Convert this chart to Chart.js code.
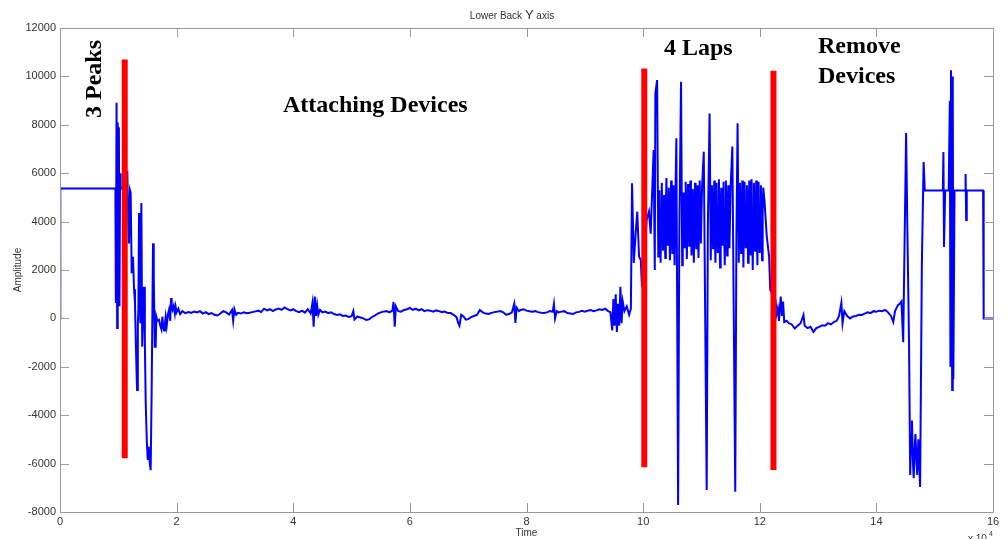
<!DOCTYPE html>
<html>
<head>
<meta charset="utf-8">
<script src="https://cdn.jsdelivr.net/npm/chart.js@4.4.1/dist/chart.umd.min.js"></script>
<style>
  html, body { margin: 0; padding: 0; background: #fff; }
  canvas { display: block; }
</style>
</head>
<body>
<canvas id="chart" width="1008" height="539"></canvas>
<script>
// Lower back Y axis signal, time in units of 10^4 samples
const signal = [
  [0, 0], [0.005, 5370], [0.95, 5370], [0.955, 5300], [0.96, 640], [0.97, 8910], [0.98, -400],
  [0.99, 8100], [1.0, 600], [1.01, 7900], [1.02, 500], [1.03, 6000], [1.04, 5350], [1.07, 5400],
  [1.10, 5300], [1.13, 5900], [1.155, 6000], [1.17, 4000], [1.183, 3100], [1.20, 5300], [1.212, 5200],
  [1.229, 1870], [1.252, 2550], [1.27, 1200], [1.286, 640], [1.30, -1000], [1.321, -2960], [1.335, -200],
  [1.344, 300], [1.355, 4350], [1.365, 2500], [1.378, -200], [1.395, 4770], [1.41, -1170], [1.425, 640],
  [1.441, 1310], [1.455, -1000], [1.47, -3500], [1.49, -5150], [1.505, -5850], [1.52, -5300],
  [1.54, -6000], [1.555, -6270], [1.572, -2960], [1.595, 3100], [1.608, 1720], [1.625, -1170],
  [1.641, -1170], [1.652, 70], [1.67, -100], [1.698, -60], [1.72, -300], [1.74, -450], [1.755, 70],
  [1.77, -350], [1.785, -500], [1.80, -200], [1.812, 70], [1.83, -300], [1.85, 150], [1.869, 350],
  [1.89, -100], [1.905, 840], [1.915, 500], [1.93, 350], [1.95, 520], [1.97, 200], [1.983, 480],
  [2.0, 250], [2.03, 400], [2.06, 180], [2.098, 300], [2.15, 220], [2.2, 260], [2.25, 230], [2.3, 280],
  [2.35, 250], [2.40, 300], [2.45, 200], [2.50, 260], [2.55, 180], [2.60, 220], [2.65, 150], [2.70, 120],
  [2.75, 200], [2.80, 300], [2.85, 250], [2.90, 160], [2.95, 350], [2.97, -100], [2.99, 380], [3.02, 150],
  [3.05, 230], [3.10, 200], [3.15, 250], [3.20, 210], [3.25, 230], [3.30, 260], [3.35, 290], [3.40, 320],
  [3.45, 260], [3.50, 400], [3.55, 330], [3.60, 380], [3.65, 300], [3.70, 370], [3.75, 410], [3.80, 350],
  [3.85, 450], [3.90, 380], [3.95, 330], [4.00, 380], [4.05, 300], [4.10, 260], [4.15, 320], [4.20, 240],
  [4.25, 380], [4.30, 200], [4.33, 650], [4.35, -340], [4.37, 900], [4.39, 100], [4.41, 550], [4.43, 150],
  [4.46, 350], [4.50, 250], [4.55, 280], [4.60, 220], [4.65, 250], [4.70, 180], [4.75, 140], [4.80, 170],
  [4.85, 100], [4.90, 120], [4.95, 60], [5.00, 90], [5.03, 300], [5.05, -50], [5.10, 80], [5.15, 40],
  [5.20, 0], [5.25, -60], [5.30, -40], [5.35, 50], [5.40, 120], [5.45, 200], [5.50, 250], [5.55, 280],
  [5.60, 300], [5.65, 250], [5.70, 320], [5.72, 680], [5.74, -340], [5.76, 500], [5.80, 300], [5.85, 280],
  [5.90, 350], [5.95, 380], [6.00, 430], [6.05, 350], [6.10, 400], [6.15, 330], [6.20, 380], [6.25, 300],
  [6.30, 340], [6.35, 320], [6.40, 280], [6.45, 330], [6.50, 300], [6.55, 260], [6.60, 280], [6.65, 220],
  [6.70, 220], [6.75, 150], [6.80, 50], [6.83, -200], [6.85, -300], [6.88, 150], [6.92, 80], [6.96, -50],
  [7.00, -30], [7.05, 50], [7.10, 100], [7.15, 140], [7.20, 350], [7.25, 250], [7.30, 200], [7.35, 180],
  [7.40, 230], [7.45, 260], [7.50, 280], [7.55, 300], [7.60, 250], [7.65, 150], [7.70, 180], [7.75, 250],
  [7.79, 600], [7.81, -190], [7.83, 450], [7.87, 300], [7.90, 350], [7.95, 380], [8.00, 320], [8.05, 300],
  [8.10, 280], [8.15, 300], [8.20, 260], [8.25, 230], [8.30, 220], [8.35, 250], [8.40, 300], [8.45, 280],
  [8.47, 600], [8.49, 0], [8.52, 300], [8.55, 250], [8.60, 280], [8.65, 300], [8.70, 220], [8.75, 200],
  [8.80, 180], [8.85, 250], [8.90, 270], [8.95, 310], [9.00, 280], [9.05, 320], [9.10, 350], [9.15, 300],
  [9.20, 330], [9.25, 380], [9.30, 350], [9.35, 400], [9.40, 300], [9.44, 250], [9.47, -500], [9.49, 800],
  [9.51, -300], [9.53, 1000], [9.55, -560], [9.57, 600], [9.59, -300], [9.61, 1310], [9.63, -200],
  [9.65, 700], [9.68, 300], [9.72, 500], [9.76, 150], [9.79, 400], [9.81, 5580], [9.84, 2290],
  [9.87, 3460], [9.90, 4410], [9.93, 2560], [9.96, 2400], [9.98, 1310], [10.01, 2000], [10.06, 4070],
  [10.10, 4410], [10.13, 3500], [10.16, 5580], [10.18, 6960], [10.20, 2000], [10.21, 9300], [10.24, 9850],
  [10.26, 2560], [10.27, 4300], [10.28, 5300], [10.29, 3600], [10.30, 2300], [10.31, 4500], [10.32, 5600],
  [10.33, 3900], [10.34, 2800], [10.35, 4200], [10.36, 5100], [10.37, 3400], [10.38, 2500], [10.39, 4600],
  [10.40, 5800], [10.41, 4100], [10.42, 3000], [10.43, 4400], [10.44, 5400], [10.45, 3700], [10.46, 2400],
  [10.47, 4300], [10.48, 5700], [10.49, 3800], [10.50, 2700], [10.51, 4500], [10.52, 5500], [10.53, 3500],
  [10.54, 2200], [10.555, 5300], [10.57, 7440], [10.60, -7710], [10.62, 3400], [10.65, 9780],
  [10.67, 2200], [10.68, 4100], [10.69, 5200], [10.70, 3900], [10.71, 2900], [10.72, 4400], [10.73, 5650],
  [10.74, 3600], [10.75, 2450], [10.76, 4300], [10.77, 5550], [10.78, 4000], [10.79, 3000], [10.80, 4500],
  [10.81, 5700], [10.82, 3700], [10.83, 2600], [10.84, 4200], [10.85, 5350], [10.86, 3500], [10.87, 2300],
  [10.88, 4400], [10.89, 5600], [10.90, 4000], [10.91, 2900], [10.92, 4300], [10.93, 5500], [10.94, 3600],
  [10.95, 2500], [10.96, 4500], [10.97, 5700], [10.98, 4100], [10.99, 3100], [11.01, 5400], [11.04, 6890],
  [11.09, -7090], [11.11, 3800], [11.14, 8470], [11.16, 2400], [11.17, 4200], [11.18, 5500], [11.19, 3900],
  [11.20, 2900], [11.21, 4400], [11.22, 5700], [11.23, 3500], [11.24, 2300], [11.25, 4300], [11.26, 5600],
  [11.27, 3800], [11.28, 2700], [11.29, 4500], [11.30, 5750], [11.31, 3600], [11.32, 2100], [11.33, 4100],
  [11.34, 5400], [11.35, 4000], [11.36, 3000], [11.37, 4400], [11.38, 5650], [11.39, 3500], [11.40, 2200],
  [11.41, 4300], [11.42, 5700], [11.43, 3800], [11.44, 2600], [11.45, 4200], [11.46, 5500], [11.47, 4000],
  [11.48, 2900], [11.50, 5400], [11.53, 7100], [11.58, -7160], [11.60, 3500], [11.62, 8060], [11.64, 2300],
  [11.65, 4200], [11.66, 5600], [11.67, 3800], [11.68, 2700], [11.69, 4400], [11.70, 5700], [11.71, 3500],
  [11.72, 2100], [11.73, 4300], [11.74, 5650], [11.75, 4000], [11.76, 2900], [11.77, 4500], [11.78, 5500],
  [11.79, 3600], [11.80, 2300], [11.81, 4200], [11.82, 5700], [11.83, 3900], [11.84, 2600], [11.85, 4400],
  [11.86, 5750], [11.87, 3500], [11.88, 2000], [11.89, 4100], [11.90, 5600], [11.91, 4000], [11.92, 2800],
  [11.93, 4300], [11.94, 5700], [11.95, 3700], [11.96, 2200], [11.97, 4500], [11.98, 5650], [11.99, 3800],
  [12.00, 2700], [12.01, 4200], [12.02, 5500], [12.03, 3600], [12.04, 2400], [12.05, 4300], [12.06, 5400],
  [12.08, 4900], [12.12, 3400], [12.16, 2560], [12.18, 1170],
  [12.27, 760], [12.29, 200], [12.31, 420], [12.33, -100], [12.36, 900], [12.38, 100], [12.40, 700],
  [12.42, -150], [12.46, -100], [12.50, -200], [12.55, -250], [12.60, -420], [12.65, -300], [12.70, -200],
  [12.75, 140], [12.77, -300], [12.82, -400], [12.87, -350], [12.92, -560], [12.97, -400], [13.02, -350],
  [13.07, -280], [13.12, -300], [13.17, -200], [13.22, -250], [13.27, -150], [13.32, -100], [13.36, 100],
  [13.40, 640], [13.42, -200], [13.45, 300], [13.50, 100], [13.55, 0], [13.60, 80], [13.65, 100],
  [13.70, 150], [13.75, 140], [13.80, 200], [13.85, 250], [13.90, 220], [13.95, 300], [14.00, 280],
  [14.05, 320], [14.10, 300], [14.15, 350], [14.20, 250], [14.25, 100], [14.29, -150], [14.32, 300],
  [14.37, 550], [14.40, 600], [14.43, 700], [14.46, -980], [14.51, 7660], [14.53, 3940], [14.56, -980],
  [14.58, -6470], [14.60, -4800], [14.61, -4220], [14.63, -6100], [14.64, -6600], [14.66, -5200],
  [14.67, -4780], [14.69, -6000], [14.70, -6470], [14.72, -5000], [14.75, -6970], [14.78, 2240],
  [14.81, 6460], [14.83, 5290], [15.14, 5290], [15.15, 6880], [15.16, 2950], [15.18, 5290], [15.24, 5290],
  [15.26, 8990], [15.27, -2000], [15.28, 10250], [15.30, -2960], [15.31, 10000], [15.32, -2500],
  [15.34, 5290], [15.52, 5290], [15.53, 5970], [15.54, 4070], [15.55, 5290], [15.83, 5290], [15.84, 0],
  [16.0, 0]
];

// red phase markers
const markerTimes = [1.11, 10.02, 12.235];
const markerTops = [10700, 10330, 10230];
const markerBottoms = [-5780, -6150, -6260];

const xTickStep = 2;
const yTickStep = 2000;

const markerSets = markerTimes.map((t, i) => ({
  data: [{ x: t, y: markerBottoms[i] }, { x: t, y: markerTops[i] }],
  borderColor: '#ff0000',
  borderWidth: 6,
  showLine: true,
  pointRadius: 0,
  order: 0
}));

// MATLAB style frame with inward ticks and the text labels
const matlabFrame = {
  id: 'matlabFrame',
  afterDraw(chart) {
    const { ctx, chartArea, scales } = chart;
    const { left, right, top, bottom } = chartArea;
    ctx.save();
    ctx.strokeStyle = '#9a9a9a';
    ctx.lineWidth = 1;
    ctx.strokeRect(Math.round(left) + 0.5, Math.round(top) + 0.5,
      Math.round(right - left), Math.round(bottom - top));
    ctx.beginPath();
    scales.x.ticks.forEach(t => {
      const px = Math.round(scales.x.getPixelForValue(t.value)) + 0.5;
      ctx.moveTo(px, bottom); ctx.lineTo(px, bottom - 9);
      ctx.moveTo(px, top); ctx.lineTo(px, top + 9);
    });
    scales.y.ticks.forEach(t => {
      const py = Math.round(scales.y.getPixelForValue(t.value)) + 0.5;
      ctx.moveTo(left, py); ctx.lineTo(left + 9, py);
      ctx.moveTo(right, py); ctx.lineTo(right - 9, py);
    });
    ctx.stroke();

    // title
    ctx.fillStyle = '#333';
    ctx.textBaseline = 'alphabetic';
    ctx.textAlign = 'left';
    const parts = [['Lower Back ', '10px "Liberation Sans"'], ['Y', '13px "Liberation Sans"'], [' axis', '10px "Liberation Sans"']];
    let w = 0;
    parts.forEach(p => { ctx.font = p[1]; w += ctx.measureText(p[0]).width; });
    let tx = 512 - w / 2;
    parts.forEach(p => { ctx.font = p[1]; ctx.fillText(p[0], tx, 19); tx += ctx.measureText(p[0]).width; });

    // exponent
    ctx.font = '10px "Liberation Sans"';
    ctx.fillText('x 10', 968, 542);
    ctx.font = '7px "Liberation Sans"';
    ctx.fillText('4', 989, 536);

    // annotations
    ctx.fillStyle = '#000';
    ctx.font = 'bold 24px "Liberation Serif"';
    ctx.fillText('Attaching Devices', 283, 112);
    ctx.fillText('4 Laps', 664, 55);
    ctx.fillText('Remove', 818, 53);
    ctx.fillText('Devices', 818, 83);
    ctx.translate(101, 118);
    ctx.rotate(-Math.PI / 2);
    ctx.fillText('3 Peaks', 0, 0);
    ctx.restore();
  }
};

new Chart(document.getElementById('chart'), {
  type: 'scatter',
  data: {
    datasets: [
      ...markerSets,
      {
        data: signal.map(p => ({ x: p[0], y: p[1] })),
        borderColor: '#0000ff',
        borderWidth: 2,
        showLine: true,
        pointRadius: 0,
        order: 1
      }
    ]
  },
  options: {
    responsive: false,
    animation: false,
    devicePixelRatio: 1,
    layout: { padding: { top: 28, right: 15, left: 0, bottom: 0 } },
    plugins: { legend: { display: false }, tooltip: { enabled: false } },
    scales: {
      x: {
        type: 'linear',
        min: 0,
        max: 16,
        grid: { display: false, drawTicks: false },
        border: { display: false },
        ticks: {
          stepSize: xTickStep,
          color: '#333',
          font: { family: 'Liberation Sans', size: 11 },
          padding: 3,
          maxRotation: 0,
          callback: v => String(v)
        },
        title: {
          display: true,
          text: 'Time',
          color: '#333',
          font: { family: 'Liberation Sans', size: 10 },
          padding: { top: 0, bottom: 0 }
        },
        afterFit: s => { s.height = 27; }
      },
      y: {
        min: -8000,
        max: 12000,
        grid: { display: false, drawTicks: false },
        border: { display: false },
        ticks: {
          stepSize: yTickStep,
          color: '#333',
          font: { family: 'Liberation Sans', size: 11 },
          padding: 4,
          callback: v => String(v)
        },
        title: {
          display: true,
          text: 'Amplitude',
          color: '#333',
          font: { family: 'Liberation Sans', size: 10 },
          padding: { top: 12, bottom: 0 }
        },
        afterFit: s => { s.width = 60; }
      }
    }
  },
  plugins: [matlabFrame]
});
</script>
</body>
</html>
